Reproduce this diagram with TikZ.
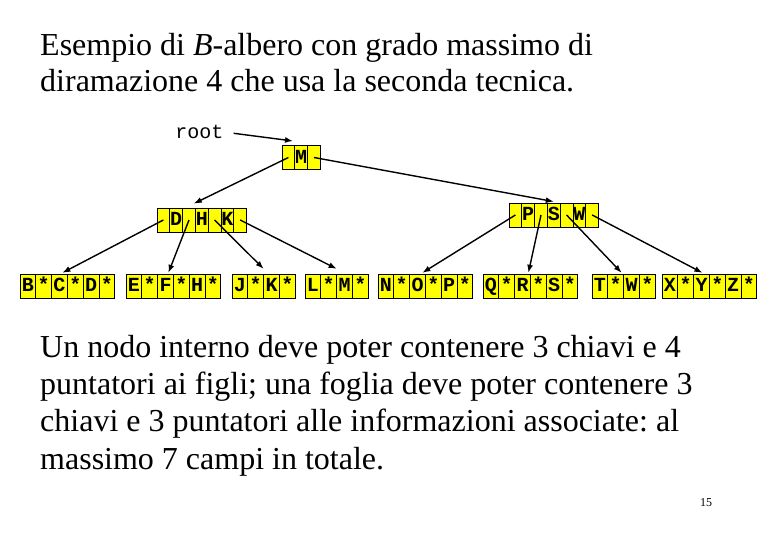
\documentclass[tikz,border=0pt]{standalone}
\usepackage{fontspec}
\setmainfont{Liberation Serif}
\setmonofont{Liberation Mono}
\usepackage{xcolor}
\usepackage{tikz}
\usetikzlibrary{arrows.meta, positioning, calc}
\definecolor{cellyellow}{RGB}{255, 255, 0}
\frenchspacing
\tikzset{
  cell/.style={draw=black, fill=cellyellow, line width=0.8pt, inner sep=0pt,
    minimum height=24pt, text height=12pt, text depth=0pt,
    font=\fontsize{20}{20}\selectfont\ttfamily\bfseries},
  leafbox/.style={inner sep=0pt, minimum height=24pt},
  ptr/.style={line width=1.4pt, -{Latex[length=8pt, width=6pt]}},
}
% internal node: name, x0, y, cells
\newcommand{\innernode}[4]{%
  \foreach \k [count=\i from 0] in {#4} {
    \node[cell, minimum width=12.8pt] (#1-\i) at (#2+\i*12.8+6.4, #3) {\k};
  }
}
% leaf: name, x0, number of cells, cells
\newcommand{\leafnode}[4]{%
  \node[leafbox, minimum width=#3*15.8pt] (#1) at (#2+#3*7.9, 286) {};
  \foreach \k [count=\i from 0] in {#4} {
    \node[cell, minimum width=15.8pt] (#1-\i) at (#2+\i*15.8+7.9, 286) {\k};
  }
}

\begin{document}
\begin{tikzpicture}[x=1pt, y=-1pt]
    \useasboundingbox (0,0) rectangle (780,540);
    % Title (anchored at the baseline of its last line)
    \node[anchor=base west, align=left, inner sep=0pt,
      font=\fontsize{32}{36}\selectfont] (title) at (40,92)
      {Esempio di \textit{B}-albero con grado massimo di\\
       diramazione 4 che usa la seconda tecnica.};
    % Root pointer
    \node[font=\fontsize{20}{20}\selectfont\ttfamily, inner sep=0pt] (root) at (199.5,132) {root};
    \coordinate (mtop) at (293,141);
    % Internal nodes
    \innernode{m}{282}{157.5}{{},M,{}}
    \innernode{dhk}{157}{220}{{},D,{},H,{},K,{}}
    \innernode{psw}{509}{215}{{},P,{},S,{},W,{}}
    % Leaves
    \leafnode{bcd}{20}{6}{B,*,C,*,D,*}
    \leafnode{efh}{126}{6}{E,*,F,*,H,*}
    \leafnode{jk}{232}{4}{J,*,K,*}
    \leafnode{lm}{305}{4}{L,*,M,*}
    \leafnode{nop}{378}{6}{N,*,O,*,P,*}
    \leafnode{qrs}{483}{6}{Q,*,R,*,S,*}
    \leafnode{tw}{592}{4}{T,*,W,*}
    \leafnode{xyz}{662}{6}{X,*,Y,*,Z,*}
    % Pointers
    \draw[ptr, shorten <=10pt] (root.east) -- (mtop);
    \draw[ptr] (m-0.center) -- ($(dhk-3.north)+(-8,-4)$);
    \draw[ptr] (m-2.center) -- ($(psw-3.north)+(0,-1)$);
    \draw[ptr] (dhk-0.center) -- ($(bcd.north)+(-5,-1)$);
    \draw[ptr] (dhk-2.center) -- ($(efh.north)+(-5,-1)$);
    \draw[ptr] (dhk-4.center) -- ($(jk.north)+(0,-5)$);
    \draw[ptr] (dhk-6.center) -- ($(lm.north)+(0,-5)$);
    \draw[ptr] (psw-0.center) -- ($(nop.north)+(-3,-1)$);
    \draw[ptr] (psw-2.center) -- ($(qrs.north)+(-2,-1)$);
    \draw[ptr] (psw-4.center) -- ($(tw.north)+(-2,-1)$);
    \draw[ptr] (psw-6.center) -- ($(xyz.north)+(-7,-1)$);
    % Text below (anchored at the baseline of its last line)
    \node[anchor=base west, align=left, inner sep=0pt,
      font=\fontsize{32}{37.3}\selectfont] (body) at (40,469)
      {Un nodo interno deve poter contenere 3 chiavi e 4\\
       puntatori ai figli; una foglia deve poter contenere 3\\
       chiavi e 3 puntatori alle informazioni associate: al\\
       massimo 7 campi in totale.};
    % Page number
    \node[font=\fontsize{12}{12}\selectfont, inner sep=0pt] (page) at (706,503) {15};
\end{tikzpicture}
\end{document}
